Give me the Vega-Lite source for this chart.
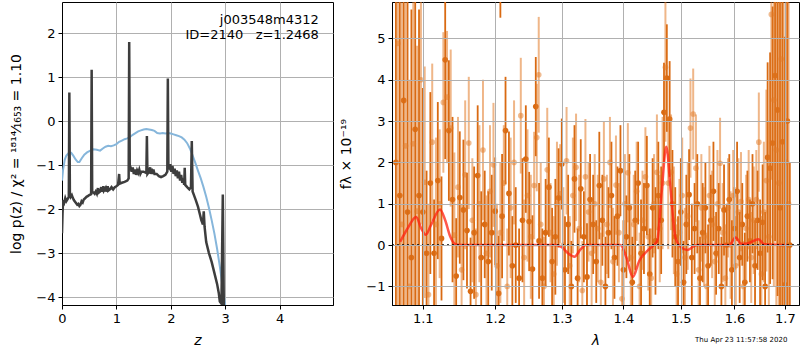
{
  "$schema": "https://vega.github.io/schema/vega-lite/v6.json",
  "background": "white",
  "padding": {"left": 8, "top": 1, "right": 0, "bottom": 0},
  "spacing": 4,
  "config": {
    "font": "DejaVu Sans",
    "view": {"stroke": "black", "strokeWidth": 1},
    "axis": {"grid": true, "gridColor": "#b0b0b0", "gridWidth": 1, "gridOpacity": 1, "domainColor": "black", "domainWidth": 1, "tickColor": "black", "tickSize": 4, "tickWidth": 1, "labelFontSize": 13, "labelColor": "black", "labelFont": "DejaVu Sans", "titleFont": "DejaVu Sans", "titleFontSize": 14, "titleFontWeight": "normal", "titleColor": "black", "labelPadding": 3, "labelFlush": false, "labelOverlap": false},
    "axisY": {"minExtent": 27, "maxExtent": 27, "titlePadding": 12},
    "axisX": {"titlePadding": 8}
  },
  "datasets": {
    "pz": [
      {"z":0.0,"v":-2.55},{"z":0.01,"v":-2.1},{"z":0.02,"v":-1.8},{"z":0.04,"v":-1.85},{"z":0.06,"v":-1.75},{"z":0.08,"v":-1.82},{"z":0.1,"v":-1.78},{"z":0.125,"v":-1.72},{"z":0.135,"v":0.65},{"z":0.145,"v":-1.65},{"z":0.16,"v":-1.72},{"z":0.18,"v":-1.68},{"z":0.2,"v":-1.75},{"z":0.22,"v":-1.8},{"z":0.25,"v":-1.85},{"z":0.28,"v":-1.9},{"z":0.3,"v":-1.88},{"z":0.32,"v":-1.93},{"z":0.34,"v":-1.9},{"z":0.36,"v":-1.82},{"z":0.38,"v":-1.85},{"z":0.4,"v":-1.78},{"z":0.42,"v":-1.76},{"z":0.45,"v":-1.72},{"z":0.48,"v":-1.7},{"z":0.5,"v":-1.68},{"z":0.535,"v":-1.66},{"z":0.545,"v":1.17},{"z":0.555,"v":-1.62},{"z":0.58,"v":-1.62},{"z":0.6,"v":-1.65},{"z":0.62,"v":-1.6},{"z":0.64,"v":-1.65},{"z":0.66,"v":-1.52},{"z":0.67,"v":-1.63},{"z":0.7,"v":-1.6},{"z":0.72,"v":-1.5},{"z":0.73,"v":-1.6},{"z":0.76,"v":-1.48},{"z":0.77,"v":-1.58},{"z":0.8,"v":-1.52},{"z":0.81,"v":-1.6},{"z":0.84,"v":-1.48},{"z":0.85,"v":-1.58},{"z":0.88,"v":-1.55},{"z":0.91,"v":-1.5},{"z":0.94,"v":-1.55},{"z":0.97,"v":-1.5},{"z":1.0,"v":-1.48},{"z":1.03,"v":-1.45},{"z":1.05,"v":-1.2},{"z":1.06,"v":-1.42},{"z":1.1,"v":-1.4},{"z":1.15,"v":-1.38},{"z":1.2,"v":-1.35},{"z":1.225,"v":-1.3},{"z":1.235,"v":1.8},{"z":1.245,"v":-1.0},{"z":1.26,"v":-1.05},{"z":1.28,"v":-1.15},{"z":1.3,"v":-1.05},{"z":1.32,"v":-1.2},{"z":1.34,"v":-1.1},{"z":1.36,"v":-1.22},{"z":1.38,"v":-1.12},{"z":1.4,"v":-1.18},{"z":1.42,"v":-1.1},{"z":1.44,"v":-1.2},{"z":1.46,"v":-1.15},{"z":1.5,"v":-1.15},{"z":1.55,"v":-1.18},{"z":1.56,"v":-0.34},{"z":1.57,"v":-1.2},{"z":1.6,"v":-1.15},{"z":1.62,"v":-1.05},{"z":1.63,"v":-1.2},{"z":1.65,"v":-1.08},{"z":1.66,"v":-1.2},{"z":1.68,"v":-1.1},{"z":1.7,"v":-1.2},{"z":1.74,"v":-1.2},{"z":1.78,"v":-1.25},{"z":1.82,"v":-1.27},{"z":1.86,"v":-1.25},{"z":1.9,"v":-1.22},{"z":1.935,"v":-1.15},{"z":1.945,"v":0.97},{"z":1.955,"v":-1.0},{"z":1.97,"v":-1.05},{"z":1.99,"v":-0.98},{"z":2.01,"v":-1.15},{"z":2.03,"v":-1.02},{"z":2.05,"v":-1.2},{"z":2.07,"v":-1.08},{"z":2.09,"v":-1.25},{"z":2.11,"v":-1.12},{"z":2.13,"v":-1.3},{"z":2.15,"v":-1.15},{"z":2.17,"v":-1.35},{"z":2.19,"v":-1.22},{"z":2.21,"v":-1.4},{"z":2.23,"v":-1.3},{"z":2.245,"v":-1.45},{"z":2.255,"v":-1.06},{"z":2.265,"v":-1.45},{"z":2.3,"v":-1.5},{"z":2.34,"v":-1.55},{"z":2.37,"v":-1.5},{"z":2.385,"v":-0.45},{"z":2.4,"v":-1.6},{"z":2.43,"v":-1.7},{"z":2.46,"v":-1.8},{"z":2.5,"v":-1.95},{"z":2.53,"v":-2.1},{"z":2.56,"v":-2.25},{"z":2.59,"v":-2.35},{"z":2.605,"v":-2.05},{"z":2.62,"v":-2.4},{"z":2.65,"v":-2.75},{"z":2.7,"v":-3.0},{"z":2.75,"v":-3.2},{"z":2.8,"v":-3.45},{"z":2.85,"v":-3.7},{"z":2.88,"v":-3.9},{"z":2.9,"v":-4.1},{"z":2.93,"v":-4.15},{"z":2.955,"v":-1.67},{"z":2.975,"v":-4.4}
    ],
    "pz2": [
      {"z":0.0,"v":-1.35},{"z":0.02,"v":-1.1},{"z":0.05,"v":-0.88},{"z":0.08,"v":-0.78},{"z":0.12,"v":-0.73},{"z":0.17,"v":-0.72},{"z":0.21,"v":-0.79},{"z":0.25,"v":-0.87},{"z":0.29,"v":-0.93},{"z":0.32,"v":-0.93},{"z":0.36,"v":-0.85},{"z":0.41,"v":-0.76},{"z":0.46,"v":-0.71},{"z":0.52,"v":-0.67},{"z":0.58,"v":-0.64},{"z":0.64,"v":-0.65},{"z":0.7,"v":-0.67},{"z":0.75,"v":-0.62},{"z":0.8,"v":-0.58},{"z":0.85,"v":-0.56},{"z":0.9,"v":-0.57},{"z":0.95,"v":-0.55},{"z":1.0,"v":-0.52},{"z":1.05,"v":-0.47},{"z":1.1,"v":-0.44},{"z":1.15,"v":-0.41},{"z":1.2,"v":-0.39},{"z":1.25,"v":-0.36},{"z":1.3,"v":-0.31},{"z":1.35,"v":-0.27},{"z":1.4,"v":-0.23},{"z":1.45,"v":-0.21},{"z":1.5,"v":-0.19},{"z":1.55,"v":-0.18},{"z":1.6,"v":-0.19},{"z":1.65,"v":-0.2},{"z":1.7,"v":-0.22},{"z":1.75,"v":-0.27},{"z":1.8,"v":-0.28},{"z":1.85,"v":-0.27},{"z":1.9,"v":-0.28},{"z":1.95,"v":-0.27},{"z":2.0,"v":-0.28},{"z":2.05,"v":-0.3},{"z":2.1,"v":-0.32},{"z":2.15,"v":-0.34},{"z":2.2,"v":-0.37},{"z":2.25,"v":-0.42},{"z":2.3,"v":-0.5},{"z":2.35,"v":-0.62},{"z":2.4,"v":-0.78},{"z":2.45,"v":-0.95},{"z":2.5,"v":-1.13},{"z":2.55,"v":-1.3},{"z":2.6,"v":-1.5},{"z":2.65,"v":-1.72},{"z":2.7,"v":-1.97},{"z":2.75,"v":-2.25},{"z":2.8,"v":-2.55},{"z":2.85,"v":-2.9},{"z":2.9,"v":-3.3},{"z":2.95,"v":-3.75},{"z":3.0,"v":-4.2},{"z":3.03,"v":-4.5}
    ],
    "dk": [
      {"l":1.065,"f":2.0,"e":8},{"l":1.07,"f":1.2,"e":7},{"l":1.075,"f":3.5,"e":6},{"l":1.08,"f":0.8,"e":5.5},{"l":1.085,"f":-0.3,"e":6},{"l":1.09,"f":2.8,"e":5},{"l":1.095,"f":1.2,"e":4.5},{"l":1.1,"f":0.8,"e":3.0},{"l":1.105,"f":-0.2,"e":2.0},{"l":1.11,"f":1.5,"e":2.2},{"l":1.115,"f":-0.2,"e":1.3},{"l":1.12,"f":1.56,"e":1.9},{"l":1.125,"f":0.16,"e":1.5},{"l":1.13,"f":4.48,"e":2.4},{"l":1.135,"f":2.77,"e":1.7},{"l":1.14,"f":1.1,"e":2.0},{"l":1.145,"f":-0.75,"e":1.4},{"l":1.15,"f":1.15,"e":1.6},{"l":1.155,"f":0.85,"e":1.7},{"l":1.16,"f":0.35,"e":1.4},{"l":1.165,"f":-1.12,"e":1.3},{"l":1.17,"f":0.3,"e":1.6},{"l":1.175,"f":1.68,"e":1.7},{"l":1.18,"f":-0.3,"e":1.6},{"l":1.185,"f":0.5,"e":1.3},{"l":1.19,"f":-0.4,"e":1.7},{"l":1.195,"f":0.3,"e":1.4},{"l":1.2,"f":0.82,"e":1.3},{"l":1.205,"f":-1.17,"e":1.4},{"l":1.2075,"f":7.0,"e":1.5},{"l":1.21,"f":0.7,"e":1.5},{"l":1.215,"f":2.77,"e":1.3},{"l":1.22,"f":1.25,"e":1.5},{"l":1.225,"f":-0.5,"e":1.2},{"l":1.23,"f":0.0,"e":1.4},{"l":1.235,"f":-0.8,"e":1.2},{"l":1.24,"f":0.6,"e":1.5},{"l":1.245,"f":2.08,"e":1.3},{"l":1.25,"f":0.57,"e":1.2},{"l":1.255,"f":-0.58,"e":1.3},{"l":1.26,"f":3.35,"e":1.2},{"l":1.265,"f":0.1,"e":1.4},{"l":1.27,"f":-0.8,"e":1.2},{"l":1.275,"f":0.3,"e":1.3},{"l":1.28,"f":1.4,"e":1.2},{"l":1.285,"f":-0.4,"e":1.3},{"l":1.29,"f":0.2,"e":1.4},{"l":1.295,"f":1.14,"e":1.2},{"l":1.3,"f":1.96,"e":1.1},{"l":1.305,"f":-0.6,"e":1.3},{"l":1.31,"f":0.5,"e":1.2},{"l":1.315,"f":-1.0,"e":1.1},{"l":1.32,"f":1.6,"e":1.3},{"l":1.325,"f":-0.8,"e":1.2},{"l":1.33,"f":1.36,"e":1.2},{"l":1.335,"f":0.2,"e":1.1},{"l":1.34,"f":-0.77,"e":1.3},{"l":1.345,"f":1.1,"e":1.1},{"l":1.35,"f":0.5,"e":1.2},{"l":1.355,"f":-0.4,"e":1.0},{"l":1.36,"f":1.44,"e":1.3},{"l":1.365,"f":0.6,"e":1.1},{"l":1.37,"f":-1.0,"e":1.2},{"l":1.375,"f":0.3,"e":1.1},{"l":1.38,"f":1.2,"e":1.3},{"l":1.385,"f":-0.3,"e":1.0},{"l":1.39,"f":0.7,"e":1.2},{"l":1.395,"f":1.8,"e":1.1},{"l":1.4,"f":-0.6,"e":1.2},{"l":1.405,"f":0.2,"e":1.0},{"l":1.41,"f":0.9,"e":1.3},{"l":1.415,"f":-0.9,"e":1.1},{"l":1.42,"f":0.6,"e":1.2},{"l":1.425,"f":1.5,"e":1.0},{"l":1.43,"f":-0.2,"e":1.3},{"l":1.435,"f":0.4,"e":1.1},{"l":1.44,"f":1.44,"e":1.2},{"l":1.445,"f":-0.7,"e":1.1},{"l":1.45,"f":0.9,"e":1.2},{"l":1.455,"f":0.1,"e":1.3},{"l":1.46,"f":1.2,"e":1.3},{"l":1.465,"f":0.6,"e":1.3},{"l":1.47,"f":3.21,"e":1.2},{"l":1.475,"f":4.04,"e":1.3},{"l":1.48,"f":3.05,"e":1.4},{"l":1.485,"f":1.0,"e":1.3},{"l":1.49,"f":0.2,"e":1.2},{"l":1.495,"f":-0.4,"e":1.1},{"l":1.5,"f":0.8,"e":1.3},{"l":1.505,"f":-0.9,"e":1.0},{"l":1.51,"f":0.5,"e":1.2},{"l":1.515,"f":1.22,"e":1.1},{"l":1.52,"f":-0.3,"e":1.3},{"l":1.525,"f":0.4,"e":1.1},{"l":1.53,"f":1.0,"e":1.2},{"l":1.535,"f":-0.8,"e":1.0},{"l":1.54,"f":0.3,"e":1.2},{"l":1.545,"f":0.9,"e":1.1},{"l":1.55,"f":-0.5,"e":1.0},{"l":1.555,"f":0.6,"e":1.1},{"l":1.56,"f":1.3,"e":1.2},{"l":1.565,"f":-0.2,"e":1.0},{"l":1.57,"f":0.4,"e":1.1},{"l":1.575,"f":-1.0,"e":1.2},{"l":1.58,"f":0.85,"e":1.1},{"l":1.585,"f":0.0,"e":1.0},{"l":1.59,"f":1.1,"e":1.1},{"l":1.595,"f":-0.6,"e":1.2},{"l":1.6,"f":0.4,"e":1.0},{"l":1.605,"f":1.3,"e":1.2},{"l":1.61,"f":-0.3,"e":1.1},{"l":1.615,"f":0.5,"e":1.0},{"l":1.62,"f":-0.9,"e":1.2},{"l":1.625,"f":0.7,"e":1.1},{"l":1.63,"f":0.1,"e":1.0},{"l":1.635,"f":1.0,"e":1.2},{"l":1.64,"f":-0.5,"e":1.1},{"l":1.645,"f":0.6,"e":1.2},{"l":1.65,"f":-0.2,"e":1.3},{"l":1.655,"f":0.55,"e":1.4},{"l":1.66,"f":-1.0,"e":1.8},{"l":1.665,"f":2.12,"e":2.3},{"l":1.67,"f":1.86,"e":2.8},{"l":1.675,"f":2.47,"e":3.3},{"l":1.68,"f":4.1,"e":4.0},{"l":1.685,"f":3.27,"e":4.5},{"l":1.69,"f":0.9,"e":5.0},{"l":1.695,"f":2.5,"e":5.5},{"l":1.7,"f":-0.96,"e":6},{"l":1.705,"f":3.0,"e":6.5},{"l":1.71,"f":0.0,"e":2.0}
    ],
    "lt": [
      {"l":1.0675,"f":4.88,"e":7},{"l":1.0725,"f":0.5,"e":6},{"l":1.0775,"f":2.4,"e":6},{"l":1.0825,"f":-1.0,"e":5},{"l":1.0875,"f":2.45,"e":5},{"l":1.0925,"f":0.82,"e":4},{"l":1.0975,"f":4.0,"e":3.5},{"l":1.1025,"f":1.52,"e":2.8},{"l":1.1075,"f":-1.2,"e":2.2},{"l":1.1125,"f":2.49,"e":1.9},{"l":1.1175,"f":0.5,"e":2.1},{"l":1.1225,"f":1.0,"e":1.8},{"l":1.1275,"f":3.45,"e":1.7},{"l":1.1325,"f":3.58,"e":1.6},{"l":1.1375,"f":2.83,"e":1.9},{"l":1.1425,"f":0.24,"e":2.0},{"l":1.1475,"f":1.4,"e":1.7},{"l":1.1525,"f":-0.6,"e":1.6},{"l":1.1575,"f":1.7,"e":1.8},{"l":1.1625,"f":2.47,"e":1.6},{"l":1.1675,"f":0.6,"e":1.5},{"l":1.1725,"f":-1.2,"e":1.6},{"l":1.1775,"f":1.0,"e":1.9},{"l":1.1825,"f":2.3,"e":1.7},{"l":1.1875,"f":-0.2,"e":1.4},{"l":1.1925,"f":1.3,"e":1.6},{"l":1.1975,"f":1.94,"e":1.5},{"l":1.2025,"f":-0.5,"e":1.5},{"l":1.2075,"f":0.3,"e":1.7},{"l":1.2125,"f":1.5,"e":1.4},{"l":1.2175,"f":-1.0,"e":1.4},{"l":1.2225,"f":0.9,"e":1.7},{"l":1.2275,"f":2.0,"e":1.5},{"l":1.2375,"f":3.13,"e":1.4},{"l":1.2425,"f":-0.3,"e":1.4},{"l":1.2475,"f":1.2,"e":1.6},{"l":1.2525,"f":0.2,"e":1.5},{"l":1.2575,"f":1.44,"e":1.3},{"l":1.2615,"f":2.6,"e":1.3},{"l":1.2645,"f":4.12,"e":1.4},{"l":1.2675,"f":0.5,"e":1.5},{"l":1.2725,"f":-1.0,"e":1.2},{"l":1.2775,"f":1.82,"e":1.5},{"l":1.2825,"f":0.3,"e":1.2},{"l":1.2875,"f":-0.7,"e":1.4},{"l":1.2925,"f":1.0,"e":1.5},{"l":1.2975,"f":1.24,"e":1.2},{"l":1.3025,"f":0.0,"e":1.4},{"l":1.3075,"f":2.04,"e":1.3},{"l":1.3125,"f":-0.5,"e":1.2},{"l":1.3175,"f":1.2,"e":1.4},{"l":1.3225,"f":1.88,"e":1.3},{"l":1.3275,"f":0.4,"e":1.3},{"l":1.3325,"f":-1.1,"e":1.2},{"l":1.3375,"f":1.65,"e":1.4},{"l":1.3425,"f":0.8,"e":1.2},{"l":1.3475,"f":-0.2,"e":1.3},{"l":1.3525,"f":1.0,"e":1.2},{"l":1.3575,"f":0.4,"e":1.3},{"l":1.3625,"f":-0.9,"e":1.2},{"l":1.3675,"f":1.6,"e":1.4},{"l":1.3725,"f":0.5,"e":1.2},{"l":1.3775,"f":2.0,"e":1.1},{"l":1.3825,"f":-0.4,"e":1.3},{"l":1.3875,"f":1.45,"e":1.2},{"l":1.3925,"f":0.3,"e":1.2},{"l":1.3975,"f":-1.3,"e":1.2},{"l":1.4025,"f":1.0,"e":1.2},{"l":1.4075,"f":1.75,"e":1.2},{"l":1.4125,"f":-0.3,"e":1.3},{"l":1.4175,"f":0.5,"e":1.2},{"l":1.4225,"f":1.3,"e":1.2},{"l":1.4275,"f":-1.0,"e":1.3},{"l":1.4325,"f":0.6,"e":1.2},{"l":1.4375,"f":1.65,"e":1.2},{"l":1.4425,"f":0.2,"e":1.3},{"l":1.4475,"f":-0.8,"e":1.2},{"l":1.4525,"f":1.0,"e":1.2},{"l":1.4575,"f":1.76,"e":1.4},{"l":1.4625,"f":0.4,"e":1.3},{"l":1.4675,"f":1.5,"e":1.6},{"l":1.4725,"f":4.3,"e":1.8},{"l":1.4775,"f":1.5,"e":1.6},{"l":1.4825,"f":1.76,"e":1.4},{"l":1.4875,"f":0.6,"e":1.3},{"l":1.4925,"f":-0.7,"e":1.2},{"l":1.4975,"f":0.3,"e":1.3},{"l":1.5025,"f":1.2,"e":1.4},{"l":1.5075,"f":-0.3,"e":1.2},{"l":1.5125,"f":0.7,"e":1.3},{"l":1.5175,"f":2.83,"e":1.2},{"l":1.5225,"f":3.17,"e":1.1},{"l":1.5275,"f":1.86,"e":1.3},{"l":1.5325,"f":-0.6,"e":1.2},{"l":1.5375,"f":0.9,"e":1.3},{"l":1.5425,"f":0.2,"e":1.2},{"l":1.5475,"f":-1.0,"e":1.3},{"l":1.5525,"f":1.2,"e":1.2},{"l":1.5575,"f":0.5,"e":1.3},{"l":1.5625,"f":-0.4,"e":1.1},{"l":1.5675,"f":1.0,"e":1.3},{"l":1.5725,"f":1.98,"e":1.1},{"l":1.5775,"f":0.3,"e":1.2},{"l":1.5825,"f":-0.8,"e":1.3},{"l":1.5875,"f":0.9,"e":1.2},{"l":1.5925,"f":0.0,"e":1.3},{"l":1.5975,"f":1.2,"e":1.1},{"l":1.6025,"f":-0.5,"e":1.2},{"l":1.6075,"f":0.8,"e":1.3},{"l":1.6125,"f":1.05,"e":1.2},{"l":1.6175,"f":-1.0,"e":1.1},{"l":1.6225,"f":0.4,"e":1.3},{"l":1.6275,"f":1.1,"e":1.2},{"l":1.6325,"f":-0.3,"e":1.1},{"l":1.6375,"f":0.6,"e":1.3},{"l":1.6425,"f":1.1,"e":1.2},{"l":1.6475,"f":2.49,"e":1.2},{"l":1.6525,"f":-0.7,"e":1.4},{"l":1.6575,"f":0.8,"e":1.7},{"l":1.6625,"f":1.56,"e":2.2},{"l":1.6675,"f":0.2,"e":2.8},{"l":1.6725,"f":5.58,"e":4},{"l":1.6775,"f":3.51,"e":4.5},{"l":1.6825,"f":2.3,"e":5},{"l":1.6875,"f":1.5,"e":5.5},{"l":1.6925,"f":4.5,"e":6},{"l":1.6975,"f":0.0,"e":6},{"l":1.7025,"f":2.0,"e":6},{"l":1.7075,"f":1.0,"e":5}
    ],
    "mdl": [
      {"l":1.0705,"m":0.08},{"l":1.08,"m":0.4},{"l":1.0912,"m":0.68},{"l":1.098,"m":0.4},{"l":1.104,"m":0.25},{"l":1.11,"m":0.45},{"l":1.123,"m":0.86},{"l":1.13,"m":0.6},{"l":1.137,"m":0.2},{"l":1.143,"m":0.03},{"l":1.15,"m":0},{"l":1.29,"m":0},{"l":1.3,"m":-0.05},{"l":1.31,"m":-0.2},{"l":1.32,"m":-0.28},{"l":1.33,"m":-0.1},{"l":1.338,"m":0},{"l":1.395,"m":0},{"l":1.405,"m":-0.3},{"l":1.416,"m":-0.77},{"l":1.427,"m":-0.38},{"l":1.44,"m":-0.15},{"l":1.452,"m":0.0},{"l":1.458,"m":0.1},{"l":1.466,"m":1.3},{"l":1.474,"m":2.38},{"l":1.482,"m":1.3},{"l":1.49,"m":0.2},{"l":1.5,"m":-0.05},{"l":1.512,"m":-0.12},{"l":1.525,"m":-0.02},{"l":1.53,"m":0},{"l":1.59,"m":0},{"l":1.602,"m":0.18},{"l":1.613,"m":0.03},{"l":1.625,"m":0.04},{"l":1.647,"m":0.14},{"l":1.658,"m":0.02},{"l":1.705,"m":0}
    ]
  },
  "hconcat": [
    {
      "width": 271,
      "height": 303,
      "layer": [
        {
          "data": {"name": "pz2"},
          "mark": {"type": "line", "color": "#86b6db", "strokeWidth": 2, "clip": true},
          "encoding": {
            "x": {"field": "z", "type": "quantitative", "title": "z", "scale": {"domain": [0, 4.98], "nice": false, "zero": false}, "axis": {"values": [0, 1, 2, 3, 4], "title": "z", "titleFontStyle": "italic"}},
            "y": {"field": "v", "type": "quantitative", "title": "log p(z) / χ² = ¹⁸¹⁴⁄₁₆₅₃ = 1.10", "scale": {"domain": [-4.18, 2.71], "nice": false, "zero": false}, "axis": {"values": [-4, -3, -2, -1, 0, 1, 2], "title": "log p(z) / χ² = ¹⁸¹⁴⁄₁₆₅₃ = 1.10"}}
          }
        },
        {
          "data": {"name": "pz"},
          "mark": {"type": "line", "color": "#3d3d3d", "strokeWidth": 2.5, "clip": true},
          "encoding": {
            "x": {"field": "z", "type": "quantitative", "title": "z"},
            "y": {"field": "v", "type": "quantitative", "title": "log p(z) / χ² = ¹⁸¹⁴⁄₁₆₅₃ = 1.10"}
          }
        },
        {
          "data": {"values": [{"t": "j003548m4312\nID=2140\u00a0\u00a0\u00a0z=1.2468"}]},
          "mark": {"type": "text", "align": "right", "baseline": "top", "fontSize": 13, "lineBreak": "\n", "lineHeight": 15, "color": "black"},
          "encoding": {
            "x": {"datum": 4.72},
            "y": {"datum": 2.43},
            "text": {"field": "t"}
          }
        }
      ]
    },
    {
      "width": 407,
      "height": 303,
      "layer": [
        {
          "data": {"name": "dk"},
          "mark": {"type": "errorbar", "color": "#d96a12", "thickness": 1.8, "clip": true},
          "encoding": {
            "x": {"field": "l", "type": "quantitative", "title": "λ", "scale": {"type": "log", "domain": [1.06, 1.729], "nice": false, "zero": false}, "axis": {"values": [1.1, 1.2, 1.3, 1.4, 1.5, 1.6, 1.7], "format": ".1f", "title": "λ", "titleFontStyle": "italic", "zindex": 1}},
            "y": {"field": "f", "type": "quantitative", "title": "fλ × 10⁻¹⁹", "scale": {"domain": [-1.45, 5.88], "nice": false, "zero": false}, "axis": {"values": [-1, 0, 1, 2, 3, 4, 5], "title": "fλ × 10⁻¹⁹", "zindex": 1}},
            "yError": {"field": "e", "title": "fλ × 10⁻¹⁹"}
          }
        },
        {
          "data": {"name": "dk"},
          "mark": {"type": "circle", "color": "#d96a12", "size": 32, "opacity": 1, "clip": true},
          "encoding": {
            "x": {"field": "l", "type": "quantitative", "title": "λ"},
            "y": {"field": "f", "type": "quantitative", "title": "fλ × 10⁻¹⁹"}
          }
        },
        {
          "data": {"name": "lt"},
          "mark": {"type": "errorbar", "color": "#e27a26", "thickness": 2.0, "opacity": 0.55, "clip": true},
          "encoding": {
            "x": {"field": "l", "type": "quantitative", "title": "λ"},
            "y": {"field": "f", "type": "quantitative", "title": "fλ × 10⁻¹⁹"},
            "yError": {"field": "e", "title": "fλ × 10⁻¹⁹"}
          }
        },
        {
          "data": {"name": "lt"},
          "mark": {"type": "circle", "color": "#e27a26", "size": 32, "opacity": 0.5, "clip": true},
          "encoding": {
            "x": {"field": "l", "type": "quantitative", "title": "λ"},
            "y": {"field": "f", "type": "quantitative", "title": "fλ × 10⁻¹⁹"}
          }
        },
        {
          "data": {"name": "mdl"},
          "mark": {"type": "line", "color": "#ff2010", "strokeWidth": 2.5, "opacity": 0.75, "interpolate": "monotone", "clip": true},
          "encoding": {
            "x": {"field": "l", "type": "quantitative", "title": "λ"},
            "y": {"field": "m", "type": "quantitative", "title": "fλ × 10⁻¹⁹"}
          }
        },
        {
          "data": {"values": [{}]},
          "mark": {"type": "rule", "color": "black", "strokeWidth": 1.5, "strokeDash": [2, 3]},
          "encoding": {"y": {"datum": 0}}
        },
        {
          "data": {"values": [{"t": "Thu Apr 23 11:57:58 2020"}]},
          "mark": {"type": "text", "align": "right", "baseline": "middle", "fontSize": 7, "color": "black"},
          "encoding": {
            "x": {"datum": 1.705},
            "y": {"datum": -2.3},
            "text": {"field": "t"}
          }
        }
      ]
    }
  ]
}
